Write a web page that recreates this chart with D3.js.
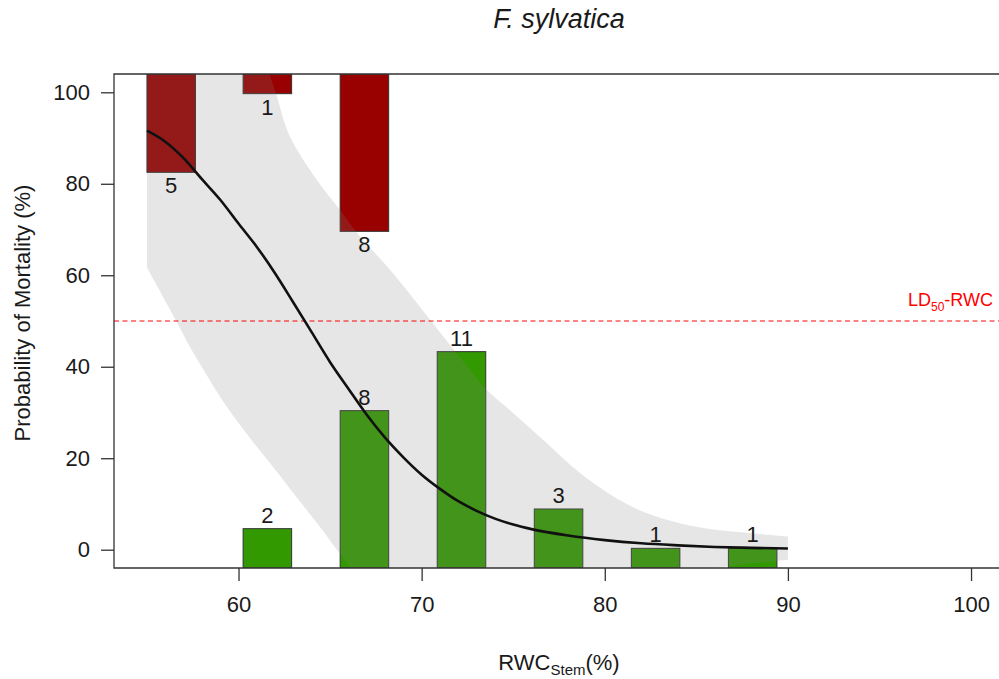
<!DOCTYPE html>
<html>
<head>
<meta charset="utf-8">
<script src="https://cdn.jsdelivr.net/npm/d3@7"></script>
<style>
  html, body { margin: 0; padding: 0; background: #ffffff; }
  svg { display: block; font-family: "Liberation Sans", Arial, Helvetica, sans-serif; }
</style>
</head>
<body>
<svg id="chart" width="999" height="679"></svg>
<script>
// ---------------- data ----------------
const chartTitle = "F. sylvatica";
// RWC classes (lower edge of each histogram bar, %)
const binStart = [55, 60.25, 65.55, 70.85, 76.15, 81.45, 86.75];
const binWidth = 2.65;
// number of dead trees per class (bars hanging from the top)
const deadCounts = [5, 1, 8, 0, 0, 0, 0];
// number of surviving trees per class (bars rising from the bottom)
const aliveCounts = [0, 2, 8, 11, 3, 1, 1];
// fitted probability of mortality (%)
const fitX = [55, 56, 57, 58, 59, 60, 61, 62, 63, 64, 65, 66, 67, 68, 69, 70, 71, 72, 73, 74, 75, 76, 78, 80, 82, 84, 86, 88, 90];
const fitY = [91.6, 89.2, 85.6, 81.0, 76.5, 71.3, 66.2, 60.4, 54.0, 47.5, 41.0, 35.2, 29.5, 24.5, 20.2, 16.4, 13.3, 10.6, 8.5, 6.8, 5.5, 4.5, 3.1, 2.1, 1.4, 0.95, 0.6, 0.4, 0.25];
// confidence band (upper and lower limits, %)
const upperX = [55, 58, 60, 61, 61.69, 62.06, 62.79, 64.25, 65.52, 66.61, 68.25, 70.44, 72.0, 73.54, 74.99, 76.81, 78.63, 80.45, 82.28, 84.1, 85.92, 87.74, 90];
const upperY = [150, 135, 122, 112, 104, 99.6, 90.5, 81.0, 74.4, 68.6, 61.3, 50.4, 42.5, 35.0, 29.9, 23.4, 16.8, 11.7, 8.0, 5.8, 4.4, 3.7, 2.9];
const lowerX = [55, 56.6, 57.3, 58.2, 59.1, 60.05, 61.0, 61.9, 62.8, 63.7, 64.6, 65.5, 66.5, 68, 72, 78, 84, 87, 90];
const lowerY = [61.7, 50.0, 44.7, 38.6, 32.8, 27.4, 22.5, 18.0, 13.4, 8.8, 4.2, -0.7, -5.5, -10, -12, -9, -5, -3.5, -2.2];
const ld50Level = 50;
const xTicks = [60, 70, 80, 90, 100];
const yTicks = [0, 20, 40, 60, 80, 100];
const xDomain = [53.2, 101.8];
const yDomain = [-4, 104];

// ---------------- layout ----------------
const svg = d3.select("#chart");
const plot = { left: 114, top: 74, right: 1004, bottom: 568 };

const x = d3.scaleLinear().domain(xDomain).range([plot.left, plot.right]);
const y = d3.scaleLinear().domain(yDomain).range([plot.bottom, plot.top]);
// bar length (in % units) per tree
const countScale = d3.scaleLinear().domain([0, 1]).range([0, 4.3]);

svg.append("defs").append("clipPath").attr("id", "plotClip")
  .append("rect")
  .attr("x", plot.left).attr("y", plot.top)
  .attr("width", plot.right - plot.left).attr("height", plot.bottom - plot.top);

const g = svg.append("g").attr("clip-path", "url(#plotClip)");

const bins = binStart.map((s, i) => ({ s, dead: deadCounts[i], alive: aliveCounts[i] }));

// dead bars (from top)
g.selectAll("rect.dead").data(bins.filter(d => d.dead > 0)).join("rect")
  .attr("class", "dead")
  .attr("x", d => x(d.s))
  .attr("width", d => x(d.s + binWidth) - x(d.s))
  .attr("y", y(yDomain[1]))
  .attr("height", d => y(yDomain[1] - countScale(d.dead)) - y(yDomain[1]))
  .attr("fill", "#990000")
  .attr("stroke", "#333333").attr("stroke-width", 1);

// alive bars (from bottom)
g.selectAll("rect.alive").data(bins.filter(d => d.alive > 0)).join("rect")
  .attr("class", "alive")
  .attr("x", d => x(d.s))
  .attr("width", d => x(d.s + binWidth) - x(d.s))
  .attr("y", d => y(yDomain[0] + countScale(d.alive)))
  .attr("height", d => y(yDomain[0]) - y(yDomain[0] + countScale(d.alive)))
  .attr("fill", "#339900")
  .attr("stroke", "#333333").attr("stroke-width", 1);

// confidence band
const up = upperX.map((v, i) => [v, upperY[i]]);
const lo = lowerX.map((v, i) => [v, lowerY[i]]).reverse();
const bandLine = d3.line().x(d => x(d[0])).y(d => y(d[1])).curve(d3.curveCatmullRom.alpha(0.5));
const bandPath = bandLine(up) + "L" + bandLine(lo).slice(1) + "Z";
g.append("path").attr("d", bandPath)
  .attr("fill", "rgb(128,128,128)").attr("fill-opacity", 0.2).attr("stroke", "none");

// LD50 line
g.append("line")
  .attr("x1", plot.left).attr("x2", plot.right)
  .attr("y1", y(ld50Level)).attr("y2", y(ld50Level))
  .attr("stroke", "#ff0000").attr("stroke-opacity", 0.65)
  .attr("stroke-width", 1.3).attr("stroke-dasharray", "5,3.5");

// fitted curve
const fit = fitX.map((v, i) => [v, fitY[i]]);
g.append("path")
  .attr("d", d3.line().x(d => x(d[0])).y(d => y(d[1])).curve(d3.curveMonotoneX)(fit))
  .attr("fill", "none").attr("stroke", "#111111").attr("stroke-width", 2.6);

// count labels
const fs = 22;
svg.selectAll("text.deadLab").data(bins.filter(d => d.dead > 0)).join("text")
  .attr("class", "deadLab")
  .attr("x", d => x(d.s + binWidth / 2))
  .attr("y", d => y(yDomain[1] - countScale(d.dead)) + 21)
  .attr("text-anchor", "middle").attr("font-size", fs).attr("fill", "#1a1a1a")
  .text(d => d.dead);
svg.selectAll("text.aliveLab").data(bins.filter(d => d.alive > 0)).join("text")
  .attr("class", "aliveLab")
  .attr("x", d => x(d.s + binWidth / 2))
  .attr("y", d => y(yDomain[0] + countScale(d.alive)) - 6)
  .attr("text-anchor", "middle").attr("font-size", fs).attr("fill", "#1a1a1a")
  .text(d => d.alive);

// LD50 label
const ldText = svg.append("text")
  .attr("x", 993).attr("y", y(ld50Level) - 15)
  .attr("text-anchor", "end").attr("font-size", 18).attr("fill", "#ff0000");
ldText.append("tspan").text("LD");
ldText.append("tspan").attr("font-size", 12).attr("dy", 5).text("50");
ldText.append("tspan").attr("dy", -5).text("-RWC");

// box (top, left, bottom)
svg.append("path")
  .attr("d", `M${plot.right},${plot.top}H${plot.left}V${plot.bottom}H${plot.right}`)
  .attr("fill", "none").attr("stroke", "#333333").attr("stroke-width", 1.3);

// axes
const xAxis = svg.append("g")
  .attr("transform", `translate(0,${plot.bottom})`)
  .call(d3.axisBottom(x).tickValues(xTicks).tickSize(13).tickPadding(15).tickFormat(d3.format("d")));
const yAxis = svg.append("g")
  .attr("transform", `translate(${plot.left},0)`)
  .call(d3.axisLeft(y).tickValues(yTicks).tickSize(13).tickPadding(11).tickFormat(d3.format("d")));
[xAxis, yAxis].forEach(a => {
  a.select(".domain").remove();
  a.selectAll(".tick line").attr("stroke", "#333333").attr("stroke-width", 1.3);
  a.selectAll(".tick text").attr("font-size", 22).attr("fill", "#1a1a1a")
    .attr("font-family", '"Liberation Sans", Arial, sans-serif');
});

// title
svg.append("text")
  .attr("x", (plot.left + plot.right) / 2).attr("y", 28)
  .attr("text-anchor", "middle").attr("font-size", 27).attr("font-style", "italic")
  .attr("fill", "#1a1a1a").text(chartTitle);

// x title
const xt = svg.append("text")
  .attr("x", (plot.left + plot.right) / 2).attr("y", 670)
  .attr("text-anchor", "middle").attr("font-size", 22).attr("fill", "#1a1a1a");
xt.append("tspan").text("RWC");
xt.append("tspan").attr("font-size", 15).attr("dy", 5).text("Stem");
xt.append("tspan").attr("dy", -5).text("(%)");

// y title
svg.append("text")
  .attr("transform", `translate(30,${(plot.top + plot.bottom) / 2 - 8}) rotate(-90)`)
  .attr("text-anchor", "middle").attr("font-size", 22).attr("fill", "#1a1a1a")
  .text("Probability of Mortality (%)");
</script>
</body>
</html>
